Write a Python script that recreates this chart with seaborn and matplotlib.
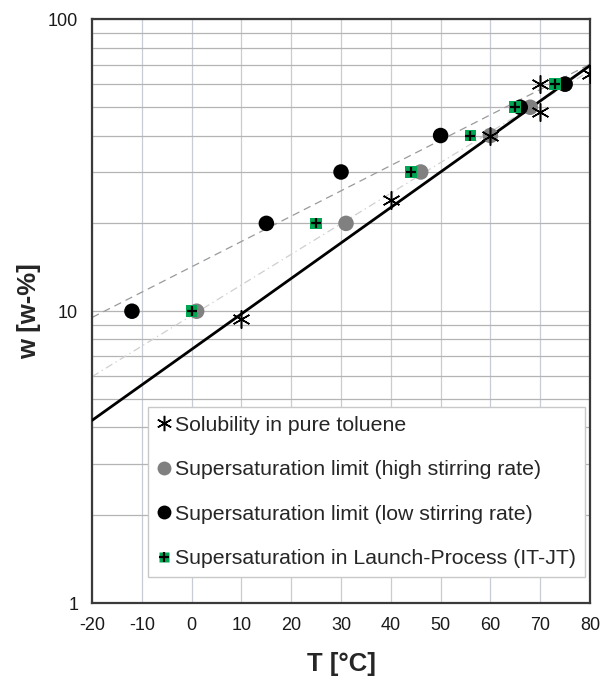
import numpy as np
import pandas as pd
import matplotlib
matplotlib.use("Agg")
import matplotlib.pyplot as plt
import seaborn as sns
from matplotlib.ticker import FixedLocator, LogLocator, NullFormatter

# solubility in pure toluene
sol_T = [10, 40, 60, 70, 70, 80]
sol_w = [9.4, 24, 40, 60, 48, 65]
# supersaturation limit, high stirring rate
high_T = [1, 31, 46, 60, 68, 75]
high_w = [10, 20, 30, 40, 50, 60]
# supersaturation limit, low stirring rate
low_T = [-12, 15, 30, 50, 66, 75]
low_w = [10, 20, 30, 40, 50, 60]
# supersaturation in launch process (IT-JT)
itjt_T = [0, 25, 44, 56, 65, 73]
itjt_w = [10, 20, 30, 40, 50, 60]

x_ticks = [-20, -10, 0, 10, 20, 30, 40, 50, 60, 70, 80]

sns.set_style("white")
plt.rcParams["font.family"] = ["Liberation Sans", "DejaVu Sans"]
plt.rcParams["axes.unicode_minus"] = False


def trend(T, w, x_range):
    """Exponential trendline, like the one Excel puts through a series."""
    k, d = np.polyfit(T, np.log10(w), 1)
    x = np.array(x_range, dtype=float)
    return pd.DataFrame({"T": x, "w": 10 ** (k * x + d)})


fig = plt.figure(figsize=(6.02, 6.81), dpi=100)
ax = fig.add_axes([0.153, 0.1145, 0.827, 0.857])
ax.set_yscale("log")

xr = [x_ticks[0], x_ticks[-1]]
t_sol = trend(sol_T, sol_w, xr)
t_low = trend(low_T, low_w, xr)
t_high = trend(high_T, high_w, xr)

sns.lineplot(data=t_low, x="T", y="w", ax=ax, color="#9a9a9a", lw=0.9,
             linestyle=(0, (6, 4)), zorder=2)
sns.lineplot(data=t_high, x="T", y="w", ax=ax, color="#cfcfcf", lw=0.9,
             linestyle=(0, (6, 3, 1, 3)), zorder=2)
sns.lineplot(data=t_sol, x="T", y="w", ax=ax, color="black", lw=2.0, zorder=3)

sns.scatterplot(x=high_T, y=high_w, ax=ax, color="#808080", s=125,
                marker="o", edgecolor="none", zorder=4)
sns.scatterplot(x=low_T, y=low_w, ax=ax, color="black", s=125,
                marker="o", edgecolor="none", zorder=5)
sns.scatterplot(x=itjt_T, y=itjt_w, ax=ax, color="#00a651", s=70,
                marker="s", edgecolor="none", zorder=6)
sns.scatterplot(x=itjt_T, y=itjt_w, ax=ax, color="black", s=55,
                marker="+", linewidth=1.6, zorder=7)
ax.plot(sol_T, sol_w, linestyle="none", marker=(6, 2, 0), ms=13,
        mec="black", mew=1.1, zorder=8)

ax.set_xlim(xr)
ax.set_ylim(1, 100)
ax.xaxis.set_major_locator(FixedLocator(x_ticks))
ax.yaxis.set_major_locator(FixedLocator([1, 10, 100]))
ax.yaxis.set_minor_locator(LogLocator(base=10, subs=np.arange(2, 10)))
ax.yaxis.set_minor_formatter(NullFormatter())
ax.set_yticklabels(["1", "10", "100"])

ax.grid(True, which="major", axis="x", color="#c8ccd4", lw=0.9)
ax.grid(True, which="both", axis="y", color="#b4b4b4", lw=0.9)
ax.set_axisbelow(True)
for sp in ax.spines.values():
    sp.set_color("#3a3a3a")
    sp.set_linewidth(1.6)
ax.tick_params(axis="both", which="major", direction="out", length=4,
               color="#c0c0c0", labelsize=13, labelcolor="#1a1a1a", pad=6)
ax.tick_params(axis="y", which="minor", length=0)

ax.set_xlabel("T [°C]", fontsize=18.5, fontweight="bold", labelpad=13)
ax.set_ylabel("w [w-%]", fontsize=18.5, fontweight="bold", labelpad=5)

h_sol = plt.Line2D([], [], linestyle="none", marker=(6, 2, 0), ms=11,
                   mec="black", mew=1.1)
h_high = plt.Line2D([], [], linestyle="none", marker="o", ms=10,
                    mfc="#808080", mec="none")
h_low = plt.Line2D([], [], linestyle="none", marker="o", ms=10,
                   mfc="black", mec="none")
h_sq = plt.Line2D([], [], linestyle="none", marker="s", ms=7,
                  mfc="#00a651", mec="none")
h_pl = plt.Line2D([], [], linestyle="none", marker="+", ms=7,
                  mec="black", mew=1.6)
leg = ax.legend([h_sol, h_high, h_low, (h_sq, h_pl)],
                ["Solubility in pure toluene",
                 "Supersaturation limit (high stirring rate)",
                 "Supersaturation limit (low stirring rate)",
                 "Supersaturation in Launch-Process (IT-JT)"],
                loc="lower right", bbox_to_anchor=(0.99, 0.045),
                fontsize=15.3, frameon=True, fancybox=False, framealpha=1,
                edgecolor="#c8c8c8", handlelength=0.7, handletextpad=0.2,
                labelspacing=1.2, borderpad=0.4, borderaxespad=0)
leg.get_frame().set_linewidth(1.0)
leg.set_zorder(10)

plt.savefig("out.png", dpi=100)
